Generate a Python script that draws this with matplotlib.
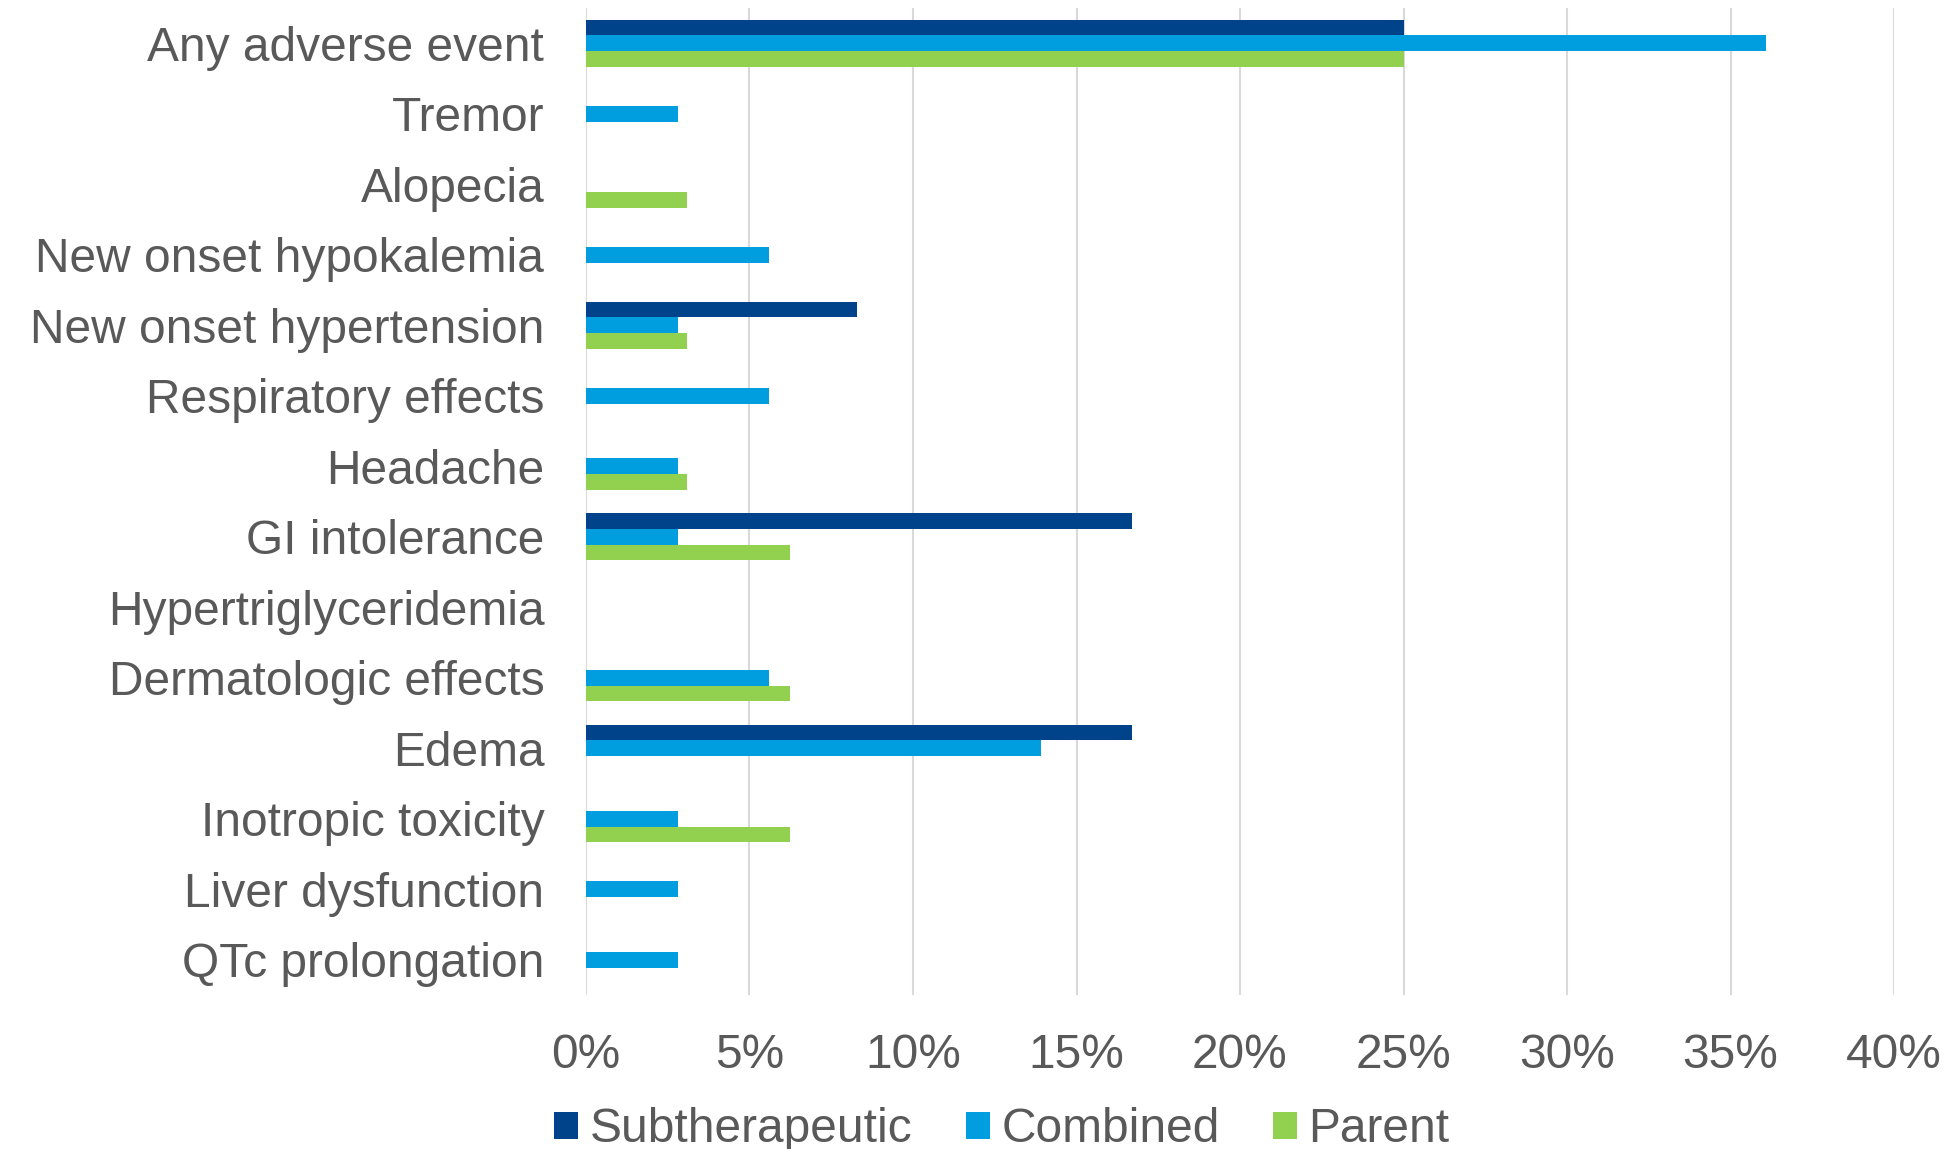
import numpy as np
import matplotlib
matplotlib.use("Agg")
from matplotlib import pyplot as plt
from matplotlib.ticker import FuncFormatter

categories = [
    "Any adverse event", "Tremor", "Alopecia", "New onset hypokalemia",
    "New onset hypertension", "Respiratory effects", "Headache",
    "GI intolerance", "Hypertriglyceridemia", "Dermatologic effects",
    "Edema", "Inotropic toxicity", "Liver dysfunction", "QTc prolongation",
]
subtherapeutic = [25.0, 0, 0, 0, 8.3, 0, 0, 16.7, 0, 0, 16.7, 0, 0, 0]
combined = [36.1, 2.8, 0, 5.6, 2.8, 5.6, 2.8, 2.8, 0, 5.6, 13.9, 2.8, 2.8, 2.8]
parent = [25.0, 0, 3.1, 0, 3.1, 0, 3.1, 6.25, 0, 6.25, 0, 6.25, 0, 0]

series = [
    ("Subtherapeutic", subtherapeutic, "#00438a"),
    ("Combined", combined, "#009ddf"),
    ("Parent", parent, "#92d050"),
]

plt.rcParams["font.family"] = ["Liberation Sans", "DejaVu Sans"]
text_color = "#595959"
fs = 34.5

fig = plt.figure(figsize=(19.49, 11.49), dpi=100)
ax = fig.add_axes([586 / 1949, 1 - 995 / 1149, (1894 - 586) / 1949, (995 - 8) / 1149])

y = np.arange(len(categories))
h = 0.222
for i, (name, vals, color) in enumerate(series):
    ax.barh(y + (i - 1) * h, vals, height=h, color=color, label=name, zorder=3)

ax.set_ylim(len(categories) - 0.5, -0.5)
ax.set_xlim(0, 40)
ax.set_xticks(range(0, 41, 5))
ax.xaxis.set_major_formatter(FuncFormatter(lambda v, p: f"{v:.0f}%"))
ax.set_yticks(y)
ax.set_yticklabels(categories)

ax.grid(axis="x", color="#d9d9d9", linewidth=1.5, zorder=0)
for s in ax.spines.values():
    s.set_visible(False)
ax.tick_params(axis="both", length=0, labelsize=fs, colors=text_color)
ax.tick_params(axis="y", pad=30)
ax.tick_params(axis="x", pad=27)

fig.legend(loc="center", bbox_to_anchor=(1002 / 1949, 1 - 1130 / 1149), ncol=3,
           frameon=False, fontsize=fs, labelcolor=text_color, handlelength=0.5,
           handleheight=0.5, handletextpad=0.25, columnspacing=1.1)

fig.savefig("out.png", dpi=100)
